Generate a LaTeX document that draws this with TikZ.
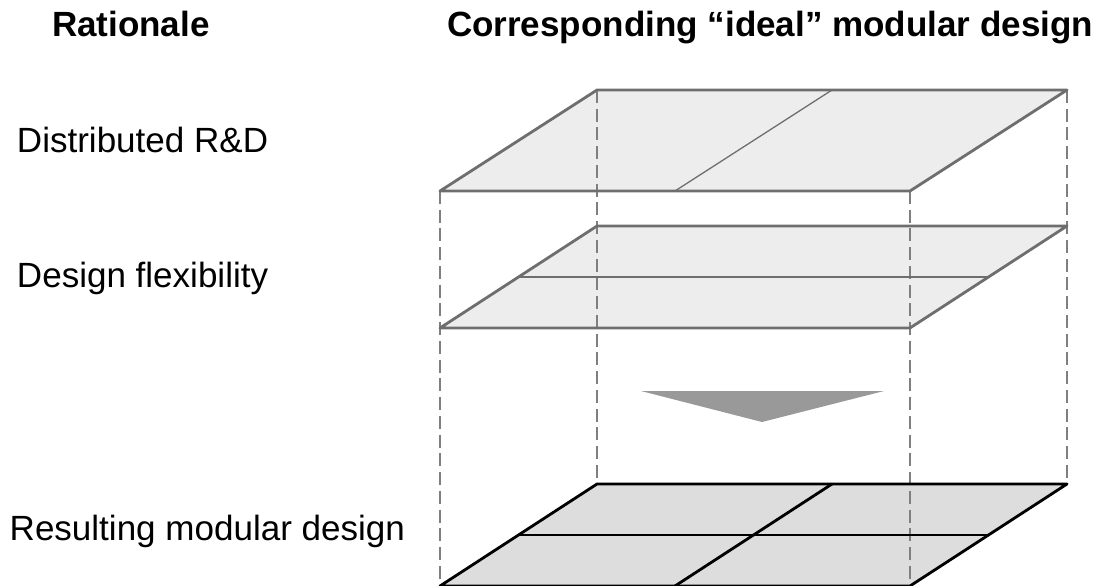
\documentclass[tikz,border=0pt]{standalone}
\usepackage{fontspec}
\setmainfont{Liberation Sans}
\usetikzlibrary{calc}
\definecolor{plane-edge}{HTML}{6E6E6E}
\definecolor{plane-fill}{HTML}{EDEDED}
\definecolor{base-fill}{HTML}{DDDDDD}
\definecolor{guide-gray}{HTML}{7F7F7F}
\definecolor{arrow-gray}{HTML}{999999}

\begin{document}
\begin{tikzpicture}[x=0.03cm, y=-0.03cm,
        every node/.style={inner sep=0pt, outer sep=0pt},
        head/.style={font=\fontsize{29.9}{34}\selectfont\bfseries, anchor=base west},
        rowlabel/.style={font=\fontsize{29.9}{34}\selectfont},
        planeedge/.style={draw=plane-edge, line width=2.4pt, line join=round},
        divider/.style={draw=plane-edge, line width=1.1pt},
        baseedge/.style={draw=black, line width=2.4pt, line join=round},
        guide/.style={draw=guide-gray, line width=1.1pt, dash pattern=on 11pt off 5pt}]
      \useasboundingbox (0,0) rectangle (1108,586);
      % headings
      \node[head] (RAT) at (52,36.7) {Rationale};
      \node[head] (IDEAL) at (447,36) {Corresponding “ideal” modular design};
      % rationale labels
      \node[rowlabel, anchor=base west] (RD) at (17,152) {Distributed R\&D};
      \node[rowlabel, anchor=base west] (FLEX) at (17,287) {Design flexibility};
      \node[rowlabel, anchor=base east] (RES) at (405,540) {Resulting modular design};
      % plane corners
      \coordinate (TFL) at (440,191);  \coordinate (TFR) at (910,191);
      \coordinate (TBR) at (1067,90);  \coordinate (TBL) at (597,90);
      \coordinate (MFL) at (440,328);  \coordinate (MFR) at (910,328);
      \coordinate (MBR) at (1067,226); \coordinate (MBL) at (597,226);
      \coordinate (BFL) at (440,586);  \coordinate (BFR) at (910,586);
      \coordinate (BBR) at (1067,484); \coordinate (BBL) at (597,484);
      % fills
      \fill[plane-fill] (TFL) -- (TFR) -- (TBR) -- (TBL) -- cycle;
      \fill[plane-fill] (MFL) -- (MFR) -- (MBR) -- (MBL) -- cycle;
      \fill[base-fill] (BFL) -- (BFR) -- (BBR) -- (BBL) -- cycle;
      % vertical guides
      \draw[guide] (TFL) -- (BFL);
      \draw[guide] (TFR) -- (BFR);
      \draw[guide] (TBL) -- (BBL);
      \draw[guide] (TBR) -- (BBR);
      % top plane: distributed R&D
      \draw[divider] ($(TBL)!0.5!(TBR)$) -- ($(TFL)!0.5!(TFR)$);
      \draw[planeedge] (TFL) -- (TFR) -- (TBR) -- (TBL) -- cycle;
      % middle plane: design flexibility
      \draw[divider] ($(MFL)!0.5!(MBL)$) -- ($(MFR)!0.5!(MBR)$);
      \draw[planeedge] (MFL) -- (MFR) -- (MBR) -- (MBL) -- cycle;
      % arrow head
      \coordinate (AL) at (641,391); \coordinate (AR) at (884,391);
      \coordinate (AT) at (762,422);
      \fill[arrow-gray] (AL) -- (AR) -- (AT) -- cycle;
      % bottom plane: resulting design
      \draw[baseedge] ($(BBL)!0.5!(BBR)$) -- ($(BFL)!0.5!(BFR)$);
      \draw[baseedge] ($(BFL)!0.5!(BBL)$) -- ($(BFR)!0.5!(BBR)$);
      \draw[baseedge] (BFL) -- (BFR) -- (BBR) -- (BBL) -- cycle;
    \end{tikzpicture}
\end{document}
